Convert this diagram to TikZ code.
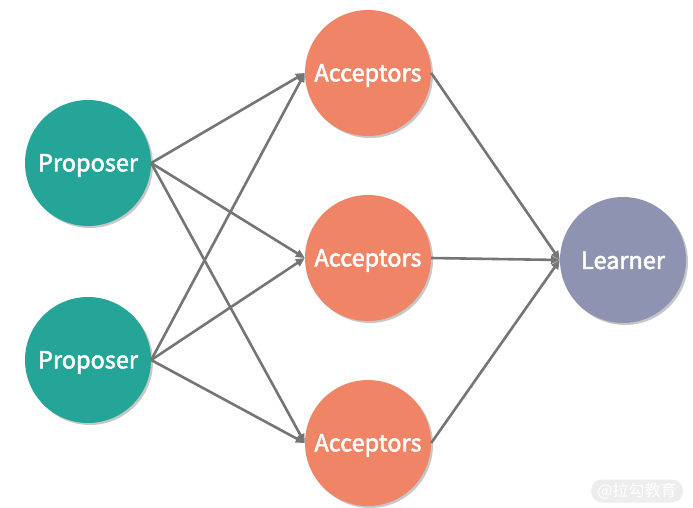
\documentclass[tikz,border=0pt]{standalone}
\usepackage{fontspec}
\setmainfont{Noto Sans CJK SC}
\newfontfamily\lblfont[FakeBold=2.2]{Noto Sans CJK SC}
\usetikzlibrary{shadows,arrows.meta}
\definecolor{teal1}{HTML}{24A597}
\definecolor{acc}{HTML}{F08466}
\definecolor{lrn}{HTML}{8E93B2}
\definecolor{ln}{HTML}{757575}
\begin{document}
\begin{tikzpicture}[x=1pt,y=-1pt,
  agent/.style={circle, minimum size=126pt, inner sep=0pt,
    drop shadow={shadow xshift=2pt, shadow yshift=-2pt, opacity=0.22, fill=black}},
  lbl/.style={text=white, font=\lblfont\fontsize{23.5}{25}\selectfont, inner sep=0pt},
  conn/.style={draw=ln, line width=2.6pt, -{Triangle[length=9pt,width=8pt]}},
  wm/.style={rounded corners=11pt, fill=black!7, text=white, font=\fontsize{16}{17}\selectfont, minimum width=92pt, minimum height=23pt, inner sep=0pt}]
\useasboundingbox (0,0) rectangle (693,507);
\node[agent, fill=teal1] (p1) at (88,163) {};
\node[agent, fill=teal1] (p2) at (88,360) {};
\node[agent, fill=acc] (a1) at (368,73) {};
\node[agent, fill=acc] (a2) at (368,258) {};
\node[agent, fill=acc] (a3) at (368,443) {};
\node[agent, fill=lrn] (l) at (623,260) {};
\foreach \n/\t/\s in {p1/Proposer/2.5,p2/Proposer/2.5,a1/Acceptors/2.5,a2/Acceptors/2.5,a3/Acceptors/2.5,l/Learner/0.5}{
  \node[lbl] (\n-t) at ([yshift=-\s pt]\n.center) {\t};
}
\foreach \p in {p1,p2}{
  \foreach \a in {a1,a2,a3}{
    \draw[conn] (\p.east) -- (\a.west);
  }
}
\foreach \a in {a1,a2,a3}{
  \draw[conn] (\a.east) -- (l.west);
}
\node[wm] (w) at (637,491) {@拉勾教育};
\end{tikzpicture}
\end{document}
